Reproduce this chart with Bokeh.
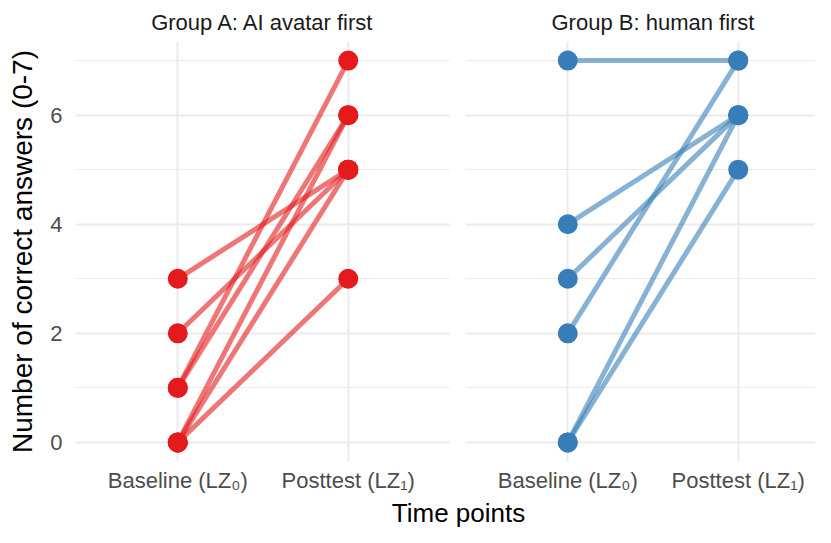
from bokeh.plotting import figure
from bokeh.layouts import column, row
from bokeh.models import Range1d, FixedTicker, SingleIntervalTicker, Grid, ColumnDataSource
from bokeh.embed import file_html
from bokeh.resources import INLINE

# ---- data ----
TIMES = ["Baseline (LZ\u2080)", "Posttest (LZ\u2081)"]
GROUPS = ["Group A: AI avatar first", "Group B: human first"]
A_BASELINE = [3, 2, 1, 1, 0, 0, 0]
A_POSTTEST = [5, 5, 7, 6, 6, 5, 3]
B_BASELINE = [7, 4, 3, 2, 0, 0]
B_POSTTEST = [7, 6, 6, 7, 6, 5]
COLORS = ["#E41A1C", "#377EB8"]
Y_LABEL = "Number of correct answers (0-7)"
X_LABEL = "Time points"

# ---- layout / style ----
FONT = "Liberation Sans"
GRID_COLOR = "#EBEBEB"
TIME_POS = {t: i + 1 for i, t in enumerate(TIMES)}
X_START = 0.4
A_X_END = 2.6
ROW_H = 495
TOP = 41
BOTTOM = 32
A_LEFT = 75
A_W = 450
B_LEFT = 15
B_W = 365
PX_PER_UNIT = (A_W - A_LEFT) / (A_X_END - X_START)
B_X_END = X_START + (B_W - B_LEFT) / PX_PER_UNIT


def make_panel(title, pre, post, color, width, border_left, x_end, show_y, title_align, title_offset):
    p = figure(width=width, height=ROW_H, output_backend="svg", toolbar_location=None, tools="",
               x_range=Range1d(X_START, x_end), y_range=Range1d(-0.35, 7.35),
               min_border_left=border_left, min_border_right=0,
               min_border_top=TOP, min_border_bottom=BOTTOM,
               y_axis_location="left" if show_y else None)
    p.outline_line_color = None
    p.background_fill_color = "white"
    p.border_fill_color = "white"
    p.grid.visible = False

    xticker = FixedTicker(ticks=[TIME_POS[t] for t in TIMES])
    yticker = SingleIntervalTicker(interval=2, num_minor_ticks=2)
    p.add_layout(Grid(dimension=0, ticker=xticker, grid_line_color=GRID_COLOR, grid_line_width=2))
    p.add_layout(Grid(dimension=1, ticker=yticker, grid_line_color=GRID_COLOR, grid_line_width=2,
                      minor_grid_line_color=GRID_COLOR, minor_grid_line_width=1.2))

    p.title.text = title
    p.title.align = title_align
    p.title.offset = title_offset
    p.title.text_font = FONT
    p.title.text_font_size = "22px"
    p.title.text_font_style = "normal"
    p.title.text_color = "#1A1A1A"
    p.title.standoff = 14

    xa = p.xaxis[0]
    xa.ticker = xticker
    xa.major_label_overrides = {TIME_POS[t]: t for t in TIMES}
    xa.axis_line_color = None
    xa.major_tick_line_color = None
    xa.minor_tick_line_color = None
    xa.major_tick_out = 0
    xa.major_label_standoff = 6
    xa.major_label_text_font = FONT
    xa.major_label_text_font_size = "22px"
    xa.major_label_text_color = "#4D4D4D"

    if show_y:
        ya = p.yaxis[0]
        ya.ticker = yticker
        ya.axis_line_color = None
        ya.major_tick_line_color = None
        ya.minor_tick_line_color = None
        ya.major_tick_out = 0
        ya.minor_tick_out = 0
        ya.major_label_standoff = 13
        ya.major_label_text_font = FONT
        ya.major_label_text_font_size = "22px"
        ya.major_label_text_color = "#4D4D4D"
        ya.axis_label = Y_LABEL
        ya.axis_label_standoff = 9
        ya.axis_label_text_font = FONT
        ya.axis_label_text_font_size = "28px"
        ya.axis_label_text_font_style = "normal"
        ya.axis_label_text_color = "black"

    n = len(pre)
    seg = ColumnDataSource(dict(
        x0=[TIME_POS[TIMES[0]]] * n, y0=pre,
        x1=[TIME_POS[TIMES[1]]] * n, y1=post))
    p.segment(x0="x0", y0="y0", x1="x1", y1="y1", source=seg,
              line_color=color, line_alpha=0.6, line_width=5)
    pts = ColumnDataSource(dict(
        x=[TIME_POS[TIMES[0]]] * n + [TIME_POS[TIMES[1]]] * n,
        y=list(pre) + list(post)))
    p.scatter(x="x", y="y", source=pts, size=20, fill_color=color, line_color=None)
    return p


pA = make_panel(GROUPS[0], A_BASELINE, A_POSTTEST, COLORS[0], A_W, A_LEFT, A_X_END, True, "center", 0)
pB = make_panel(GROUPS[1], B_BASELINE, B_POSTTEST, COLORS[1], B_W, B_LEFT, B_X_END, False, "left", 86)

# bottom strip holding the shared x-axis title (centred under both panels)
T_W, T_H = A_W + B_W, 527 - ROW_H
pT = figure(width=T_W, height=T_H, output_backend="svg", toolbar_location=None, tools="",
            x_axis_location=None, y_axis_location=None,
            min_border_left=101, min_border_right=0, min_border_top=0, min_border_bottom=0)
pT.outline_line_color = None
pT.grid.visible = False
pT.title.text = X_LABEL
pT.title.align = "center"
pT.title.text_font = FONT
pT.title.text_font_size = "26px"
pT.title.text_font_style = "normal"
pT.title.text_color = "black"
pT.title.standoff = 0

layout = column(row(pA, pB), pT)
open("out.html", "w").write(file_html(layout, INLINE))
